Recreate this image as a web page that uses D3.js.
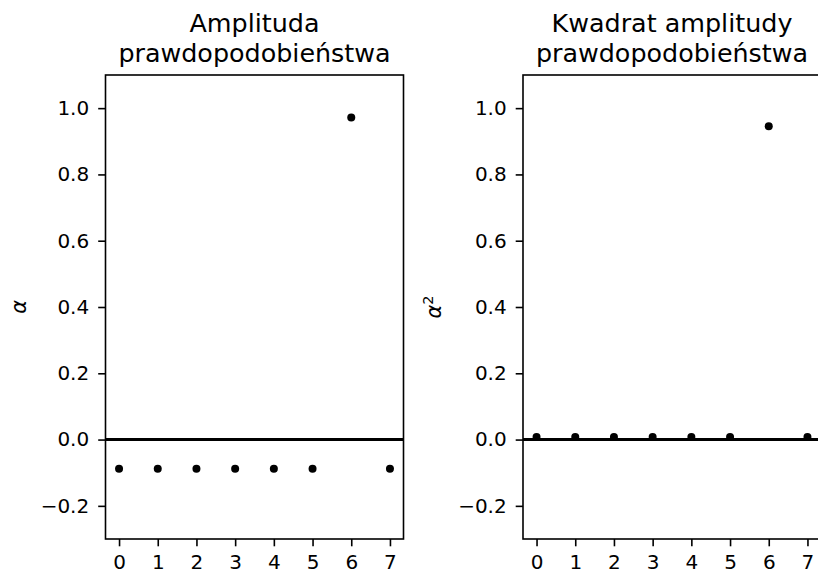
<!DOCTYPE html>
<html>
<head>
<meta charset="utf-8">
<script src="https://cdn.jsdelivr.net/npm/d3@7"></script>
<style>
  html, body { margin: 0; padding: 0; background: #fff; }
  svg text { font-family: "DejaVu Sans", sans-serif; fill: #000; }
</style>
</head>
<body>
<div id="chart"></div>
<script>
'use strict'

// data
const states = [0, 1, 2, 3, 4, 5, 6, 7]
const amplitudes = [-0.088, -0.088, -0.088, -0.088, -0.088, -0.088, 0.972, -0.088]
const probabilities = [0.0078, 0.0078, 0.0078, 0.0078, 0.0078, 0.0078, 0.945, 0.0078]
const yTicks = [-0.2, 0.0, 0.2, 0.4, 0.6, 0.8, 1.0]
const panels = [
    { title: ['Amplituda', 'prawdopodobieństwa'], label: 'α', sup: '', values: amplitudes },
    { title: ['Kwadrat amplitudy', 'prawdopodobieństwa'], label: 'α', sup: '2', values: probabilities }
]

// layout
const svgWidth = 818
const svgHeight = 574
const panelLeft = [105.5, 523]
const panelWidth = 298
const plotTop = 75
const plotBottom = 539
const tickLen = 7.3

const svg = d3.select('#chart').append('svg')
    .attr('width', svgWidth)
    .attr('height', svgHeight)

panels.forEach((p, i) => {
    const x0 = panelLeft[i]

    const xScale = d3.scaleLinear()
        .domain([-0.35, 7.35])
        .range([x0, x0 + panelWidth])

    const yScale = d3.scaleLinear()
        .domain([-0.3, 1.1])
        .range([plotBottom, plotTop])

    const g = svg.append('g')

    // zero line
    g.append('line')
        .attr('x1', xScale(-0.35)).attr('x2', xScale(7.35))
        .attr('y1', yScale(0)).attr('y2', yScale(0))
        .attr('stroke', '#000')
        .attr('stroke-width', 3)

    // points
    g.append('g')
        .selectAll('circle')
        .data(states)
        .join('circle')
        .attr('cx', d => xScale(d))
        .attr('cy', d => yScale(p.values[d]))
        .attr('r', 4)
        .attr('fill', '#000')

    // axes
    const xAxis = d3.axisBottom(xScale)
        .tickValues(states)
        .tickFormat(d3.format('d'))
        .tickSize(tickLen)
        .tickPadding(8.5)

    const yAxis = d3.axisLeft(yScale)
        .tickValues(yTicks)
        .tickFormat(d => d3.format('.1f')(d).replace('-', '\u2212'))
        .tickSize(tickLen)
        .tickPadding(9)

    const xg = g.append('g')
        .attr('transform', `translate(0,${plotBottom})`)
        .call(xAxis)
    const yg = g.append('g')
        .attr('transform', `translate(${x0},0)`)
        .call(yAxis)

    for (const ax of [xg, yg]) {
        ax.select('.domain').remove()
        ax.selectAll('.tick line').attr('stroke', '#000').attr('stroke-width', 1.6)
        ax.selectAll('.tick text')
            .style('font-family', '"DejaVu Sans", sans-serif')
            .style('font-size', '20px')
            .attr('fill', '#000')
    }

    // frame
    g.append('rect')
        .attr('x', x0).attr('y', plotTop)
        .attr('width', panelWidth).attr('height', plotBottom - plotTop)
        .attr('fill', 'none')
        .attr('stroke', '#000')
        .attr('stroke-width', 1.6)

    // title
    const cx = x0 + panelWidth / 2
    g.append('text')
        .attr('x', cx).attr('y', 31.5)
        .attr('text-anchor', 'middle')
        .style('font-size', '25.4px')
        .text(p.title[0])
    g.append('text')
        .attr('x', cx).attr('y', 61.5)
        .attr('text-anchor', 'middle')
        .style('font-size', '25.4px')
        .text(p.title[1])

    // y label
    const lx = i === 0 ? 26 : 441
    const lab = g.append('text')
        .attr('transform', `translate(${lx},${(plotTop + plotBottom) / 2}) rotate(-90)`)
        .attr('text-anchor', 'middle')
        .style('font-size', '20.8px')
        .style('font-style', 'italic')
    lab.append('tspan').text(p.label)
    if (p.sup) {
        lab.append('tspan')
            .attr('dy', -8)
            .style('font-size', '14.5px')
            .style('font-style', 'normal')
            .text(p.sup)
    }
})
</script>
</body>
</html>
